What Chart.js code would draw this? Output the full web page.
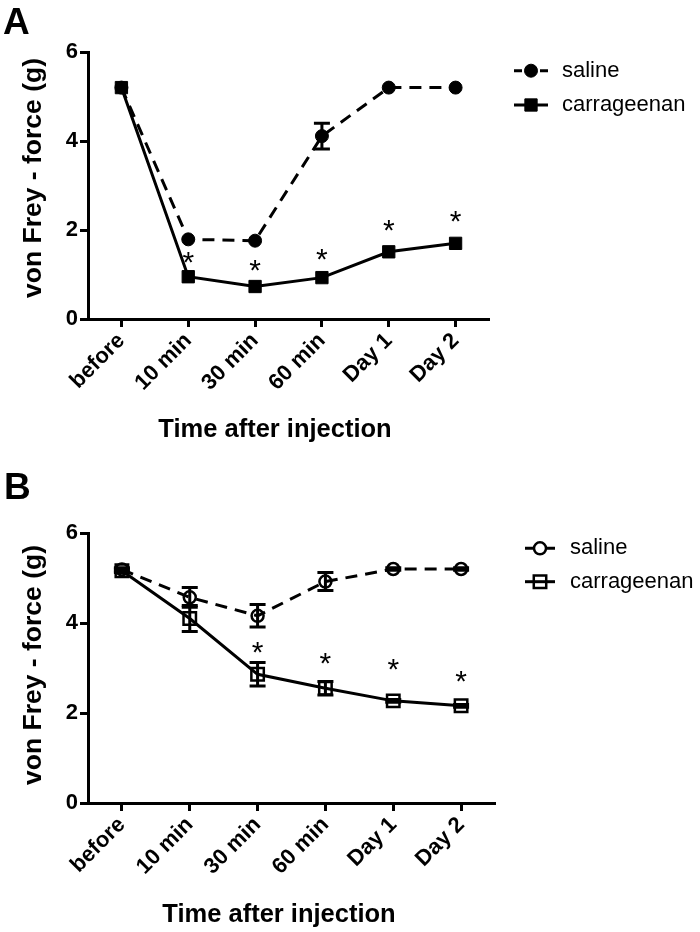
<!DOCTYPE html>
<html><head><meta charset="utf-8">
<script src="https://cdn.jsdelivr.net/npm/chart.js@4.4.0/dist/chart.umd.min.js"></script>
<style>
html,body{margin:0;padding:0;background:#fff;}
#wrap{position:relative;width:700px;height:932px;overflow:hidden;}
.panel{position:absolute;left:0;width:700px;height:466px;}
.lab{position:absolute;font:bold 37px 'Liberation Sans',Arial,sans-serif;line-height:1;color:#000;}
</style></head><body>
<div id="wrap">
<div class="panel" style="top:0"><canvas id="cA" width="700" height="466"></canvas></div>
<div class="panel" style="top:466px"><canvas id="cB" width="700" height="466"></canvas></div>
<div class="lab" style="left:3px;top:3px">A</div>
<div class="lab" style="left:4px;top:468px">B</div>
</div>
<script>
const categories = ['before', '10 min', '30 min', '60 min', 'Day 1', 'Day 2'];
const yTicks = [0, 2, 4, 6];
const seriesNames = ['saline', 'carrageenan'];
const xTitle = 'Time after injection';
const yTitle = 'von Frey - force (g)';

// Panel A
const salineA = [5.2, 1.79, 1.76, 4.11, 5.2, 5.2];
const salineErrA = [0, 0, 0, 0.29, 0, 0];
const carrA = [5.2, 0.95, 0.73, 0.93, 1.51, 1.70];
const carrErrA = [0, 0, 0, 0, 0, 0];
const starsA = [null, 1.44, 1.26, 1.51, 2.16, 2.36];

// Panel B
const salineB = [5.19, 4.57, 4.16, 4.92, 5.2, 5.2];
const salineErrB = [0.04, 0.22, 0.25, 0.2, 0.03, 0.03];
const carrB = [5.16, 4.1, 2.86, 2.55, 2.27, 2.16];
const carrErrB = [0.04, 0.29, 0.26, 0.15, 0.03, 0.03];
const starsB = [null, null, 3.51, 3.28, 3.14, 2.88];

const FONT = "'Liberation Sans', Arial, sans-serif";

function drawMarker(ctx, style, r, x, y, fill, bw) {
  ctx.beginPath();
  if (style === 'rect') {
    const s = r * Math.SQRT1_2;
    ctx.rect(x - s, y - s, 2 * s, 2 * s);
  } else {
    ctx.arc(x, y, r, 0, Math.PI * 2);
  }
  if (fill && fill !== 'rgba(0,0,0,0)') { ctx.fillStyle = fill; ctx.fill(); }
  ctx.lineWidth = bw; ctx.strokeStyle = '#000'; ctx.setLineDash([]); ctx.stroke();
}

const extras = {
  id: 'extras',
  afterDatasetsDraw(chart, args, opts) {
    const ctx = chart.ctx, ys = chart.scales.y, xs = chart.scales.x;
    // error bars
    chart.data.datasets.forEach((ds, di) => {
      if (!ds.errors) return;
      const meta = chart.getDatasetMeta(di);
      ctx.save();
      ctx.strokeStyle = '#000'; ctx.lineWidth = 3; ctx.setLineDash([]);
      ds.data.forEach((v, i) => {
        const e = ds.errors[i];
        if (!e) return;
        const px = meta.data[i].x;
        const t = ys.getPixelForValue(v + e), b = ys.getPixelForValue(v - e);
        ctx.beginPath();
        ctx.moveTo(px, t); ctx.lineTo(px, b);
        ctx.moveTo(px - 8, t); ctx.lineTo(px + 8, t);
        ctx.moveTo(px - 8, b); ctx.lineTo(px + 8, b);
        ctx.stroke();
      });
      ctx.restore();
    });
    // significance stars
    ctx.save();
    ctx.fillStyle = '#000';
    ctx.font = '30px ' + FONT;
    ctx.textAlign = 'center';
    ctx.textBaseline = 'alphabetic';
    (opts.stars || []).forEach((v, i) => {
      if (v == null) return;
      const px = xs.getPixelForValue(i);
      const py = ys.getPixelForValue(v);
      ctx.fillText('*', px, py + 0.575 * 30);
    });
    ctx.restore();
  },
  afterDraw(chart, args, opts) {
    const ctx = chart.ctx;
    // legend
    const L = opts.legend;
    chart.data.datasets.forEach((ds, di) => {
      const y = L.ys[di];
      ctx.save();
      ctx.strokeStyle = '#000'; ctx.lineWidth = 3;
      ctx.beginPath();
      if (ds.borderDash && ds.borderDash.length) {
        ctx.moveTo(L.x0, y); ctx.lineTo(L.x0 + 8, y);
        ctx.moveTo(L.x1 - 8, y); ctx.lineTo(L.x1, y);
      } else {
        ctx.moveTo(L.x0, y); ctx.lineTo(L.x1, y);
      }
      ctx.stroke();
      drawMarker(ctx, ds.pointStyle, ds.pointRadius, (L.x0 + L.x1) / 2, y, ds.pointBackgroundColor, ds.pointBorderWidth);
      ctx.fillStyle = '#000';
      ctx.font = '22px ' + FONT;
      ctx.textAlign = 'left'; ctx.textBaseline = 'middle';
      ctx.fillText(ds.label, L.tx, y);
      ctx.restore();
    });
    // axis titles
    ctx.save();
    ctx.fillStyle = '#000';
    ctx.font = 'bold 25.5px ' + FONT;
    ctx.textAlign = 'center'; ctx.textBaseline = 'alphabetic';
    ctx.fillText(xTitle, opts.xTitlePos[0], opts.xTitlePos[1]);
    ctx.translate(opts.yTitlePos[0], opts.yTitlePos[1]);
    ctx.rotate(-Math.PI / 2);
    ctx.font = 'bold 26.5px ' + FONT;
    ctx.textBaseline = 'middle';
    ctx.fillText(yTitle, 0, 0);
    ctx.restore();
  }
};

function makeChart(id, sal, salErr, car, carErr, stars, filled, pad, xHeight, legend, xTitlePos, yTitlePos) {
  const datasets = [
    {
      label: seriesNames[0], data: sal, errors: salErr,
      borderColor: '#000', borderWidth: 3, borderDash: [12, 8],
      pointStyle: 'circle', pointRadius: filled ? 6.5 : 6,
      pointBackgroundColor: filled ? '#000' : 'rgba(0,0,0,0)',
      pointBorderColor: '#000', pointBorderWidth: filled ? 1 : 2.5,
      fill: false, tension: 0, order: 2
    },
    {
      label: seriesNames[1], data: car, errors: carErr,
      borderColor: '#000', borderWidth: 3, borderDash: [],
      pointStyle: 'rect', pointRadius: filled ? 8.7 : 8.8,
      pointBackgroundColor: filled ? '#000' : 'rgba(0,0,0,0)',
      pointBorderColor: '#000', pointBorderWidth: filled ? 1 : 2.5,
      fill: false, tension: 0, order: 1
    }
  ];
  return new Chart(document.getElementById(id), {
    type: 'line',
    data: { labels: categories, datasets },
    plugins: [extras],
    options: {
      responsive: false, animation: false, devicePixelRatio: 1,
      layout: { padding: pad },
      plugins: {
        legend: { display: false }, tooltip: { enabled: false },
        extras: { stars, legend, xTitlePos, yTitlePos }
      },
      elements: { line: { borderCapStyle: 'butt' } },
      scales: {
        x: {
          type: 'category', offset: true,
          grid: { display: true, drawOnChartArea: false, drawTicks: true, tickLength: 8, tickWidth: 3, tickColor: '#000', offset: false },
          border: { display: true, width: 3, color: '#000' },
          ticks: { color: '#000', font: { family: FONT, size: 22, weight: 'bold' }, minRotation: 45, maxRotation: 45, autoSkip: false, padding: 1 },
          title: { display: false },
          afterFit: (s) => { s.height = xHeight; }
        },
        y: {
          min: 0, max: 6,
          afterBuildTicks: (s) => { s.ticks = yTicks.map(v => ({ value: v })); },
          grid: { display: true, drawOnChartArea: false, drawTicks: true, tickLength: 8, tickWidth: 3, tickColor: '#000' },
          border: { display: true, width: 3, color: '#000' },
          ticks: { color: '#000', font: { family: FONT, size: 22, weight: 'bold' }, padding: 2 },
          title: { display: false },
          afterFit: (s) => { s.width = 88; }
        }
      }
    }
  });
}

makeChart('cA', salineA, salineErrA, carrA, carrErrA, starsA, true,
  { left: 0, top: 52, right: 211, bottom: 0 }, 147,
  { x0: 514, x1: 548, tx: 562, ys: [70.7, 105] }, [275, 437], [34, 178]);
makeChart('cB', salineB, salineErrB, carrB, carrErrB, starsB, false,
  { left: 0, top: 67, right: 205, bottom: 0 }, 129,
  { x0: 525, x1: 555, tx: 570, ys: [82.3, 115.7] }, [279, 456], [34, 199]);
</script>
</body></html>
